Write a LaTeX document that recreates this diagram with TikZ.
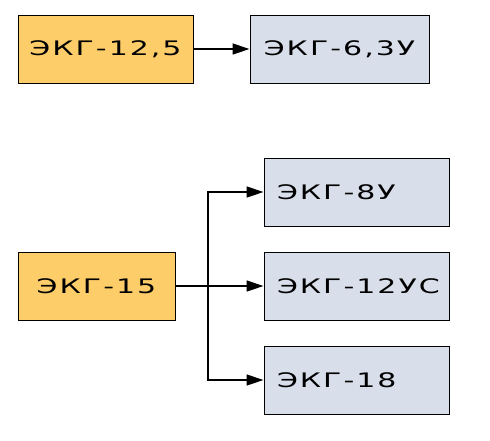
\documentclass[tikz,border=0pt]{standalone}
\usepackage{fontspec}
\setmainfont{DejaVu Sans}[FakeStretch=1.5,LetterSpace=10]
\usetikzlibrary{arrows.meta}
\definecolor{srcfill}{HTML}{FDCD6A}
\definecolor{dstfill}{HTML}{D9DFEA}
\tikzset{
  box/.style={draw=black,line width=1pt,inner sep=0pt,font=\fontsize{20}{24}\selectfont},
  src/.style={box,fill=srcfill},
  dst/.style={box,fill=dstfill},
  dstl/.style={dst,minimum width=185pt,minimum height=68pt,text width=159pt,align=left},
  link/.style={line width=1.4pt,-{Triangle[length=17pt,width=11pt]}}
}
\begin{document}
\begin{tikzpicture}[x=1pt,y=-1pt]
\useasboundingbox (0,0) rectangle (490,440);
\node[src,minimum width=175pt,minimum height=68pt] (a) at (105.5,49) {ЭКГ-12,5};
\node[dst,minimum width=179pt,minimum height=68pt] (b) at (339.5,49) {ЭКГ-6,3У};
\node[src,minimum width=157pt,minimum height=68pt] (c) at (96.5,286) {ЭКГ-15};
\node[dstl] (d) at (356.5,192) {\mbox{ЭКГ-8У}};
\node[dstl] (e) at (356.5,286) {\mbox{ЭКГ-12УС}};
\node[dstl] (f) at (356.5,380) {\mbox{ЭКГ-18}};
\coordinate (j) at (208,286);
\draw[link] (a) -- (b);
\draw[link] (c) -- (e);
\draw[link] (j) |- (d);
\draw[link] (j) |- (f);
\end{tikzpicture}
\end{document}
